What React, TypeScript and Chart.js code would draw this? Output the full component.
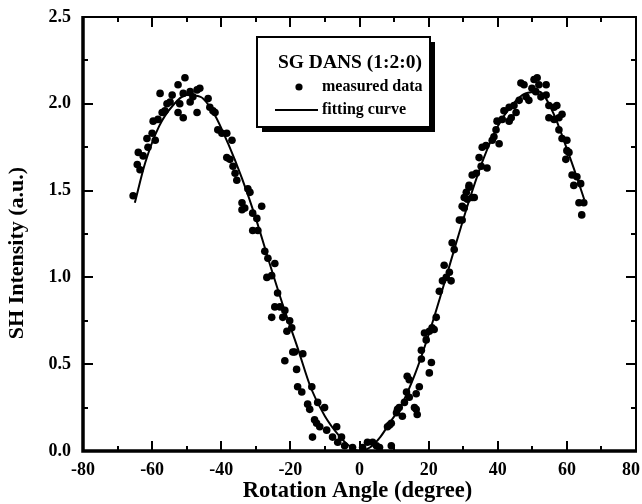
import React, { useEffect, useRef } from "react";
import { Chart, registerables } from "chart.js";
Chart.register(...registerables);

const measuredAngle = [
  -65.5, -64.3, -64, -63.5, -62.6, -61.5, -61.2, -60, -59.7, -59.1, -58.3, -57.7, -57.1, -56.3, -55.7, -54.8, -54.2,
  -52.5, -52.5, -52, -51, -51, -50.5, -49, -49, -48.2, -47, -47, -46.2, -43.8, -43.3, -42.4, -41.8, -41, -39.8,
  -38.4, -38.4, -37.5, -36.9, -36.6, -36, -35.5, -34, -34, -33.2, -32.3, -31.7, -30.9, -30.9, -29.7, -29.4, -28.3,
  -27.4, -26.8, -26.5, -25.4, -25.4, -24.5, -24.5, -23.7, -23, -22.2, -21.6, -21.6, -21, -20.2, -19.6, -19.3, -18.8,
  -18.2, -17.9, -16.7, -16.4, -15, -14.4, -13.8, -13.6, -13, -12.4, -12.1, -11.5, -10.1, -9.5, -7.8, -6.6, -6.3,
  -5.2, -4.3, -2, 0.9, 2.3, 3.8, 4.9, 5.8, 8.1, 8.7, 9.2, 9.2, 10.7, 11, 11.5, 12.4, 13, 13.6, 13.8, 14.4, 14.4,
  15.9, 16.4, 16.7, 16.4, 17.3, 17.9, 17.9, 18.8, 19.3, 20.2, 20.2, 20.8, 21, 21.6, 22.2, 23.1, 24, 24.5, 25.1, 26,
  26.5, 26.8, 27.4, 28.9, 29.7, 29.7, 30.3, 30.3, 30.9, 31.2, 31.7, 31.7, 32.6, 32.6, 33.2, 33.8, 34.6, 35.2, 35.5,
  36.6, 36.9, 38.4, 38.9, 39.5, 39.8, 40.4, 41.3, 41.8, 43.3, 43.3, 43.9, 44.7, 45.3, 46.2, 46.7, 47.6, 48.2, 49,
  49.9, 50.5, 51, 51.4, 51.9, 52.5, 54, 54, 54.8, 54.8, 56.3, 56.3, 57.1, 57.7, 57.7, 58.6, 58.6, 60, 60, 60.6, 59.7,
  61.5, 62.9, 62, 64, 63.5, 64.9, 64.3,
];
const measuredIntensity = [
  1.47, 1.65, 1.72, 1.62, 1.7, 1.8, 1.75, 1.83, 1.9, 1.79, 1.91, 2.06, 1.95, 1.96, 2.0, 2.01, 2.05,
  2.11, 1.95, 2.0, 2.06, 1.92, 2.15, 2.07, 2.01, 2.04, 2.08, 1.95, 2.09, 2.03, 1.98, 1.96, 1.95, 1.85, 1.83,
  1.83, 1.69, 1.68, 1.79, 1.64, 1.6, 1.56, 1.43, 1.39, 1.4, 1.51, 1.49, 1.37, 1.27, 1.34, 1.27, 1.41,
  1.15, 1.0, 1.11, 1.01, 0.77, 1.08, 0.83, 0.91, 0.83, 0.77, 0.81, 0.52, 0.69, 0.75, 0.71, 0.57, 0.57,
  0.47, 0.37, 0.34, 0.56, 0.27, 0.24, 0.37, 0.08, 0.18, 0.16, 0.28, 0.14, 0.25, 0.12, 0.08, 0.14, 0.05,
  0.08, 0.03, 0.02, 0.02, 0.05, 0.05, 0.03, 0.02, 0.14, 0.15, 0.03, 0.16, 0.22, 0.24, 0.25, 0.2, 0.28, 0.34, 0.43, 0.31, 0.41,
  0.25, 0.24, 0.21, 0.33, 0.37, 0.53, 0.58, 0.68, 0.64, 0.45, 0.69, 0.51, 0.71, 0.7, 0.77, 0.92, 0.98, 1.07, 1.0, 1.03,
  0.98, 1.2, 1.16, 1.33, 1.33, 1.41, 1.4, 1.46, 1.49, 1.45, 1.52, 1.53, 1.46, 1.59, 1.46, 1.6, 1.69, 1.64, 1.75,
  1.76, 1.63, 1.79, 1.81, 1.85, 1.9, 1.77, 1.91, 1.96, 1.9, 1.98, 1.92, 1.99, 1.95, 2.02, 2.12, 2.11, 2.04, 2.02,
  2.09, 2.14, 2.07, 2.15, 2.11, 2.04, 2.11, 2.05, 1.99, 1.92, 1.98, 1.91, 1.99, 1.92, 1.85, 1.94, 1.8, 1.79, 1.73, 1.72, 1.68,
  1.59, 1.58, 1.53, 1.54, 1.43, 1.43, 1.36,
];

const fitAngle = [
  -65, -62, -58, -54, -50, -46, -42, -38, -34, -30, -26, -22, -18, -14, -10, -6, -3, 0,
  3, 6, 9, 12, 16, 20, 24, 28, 32, 36, 40, 44, 48, 52, 56, 60, 63, 65,
];
const fitIntensity = [
  1.43, 1.66, 1.87, 1.99, 2.05, 2.04, 1.94, 1.77, 1.57, 1.34, 1.08, 0.83, 0.6, 0.36, 0.2, 0.09, 0.03, 0.0,
  0.02, 0.08, 0.17, 0.26, 0.44, 0.67, 0.93, 1.2, 1.46, 1.69, 1.87, 1.99, 2.06, 2.07, 1.95, 1.74, 1.57, 1.45,
];

const xTickValues = [-80, -60, -40, -20, 0, 20, 40, 60, 80];
const yTickValues = [0, 0.5, 1.0, 1.5, 2.0, 2.5];

const legendTitle = "SG DANS (1:2:0)";
const seriesNames = ["measured data", "fitting curve"];
const xTitle = "Rotation Angle (degree)";
const yTitle = "SH Intensity (a.u.)";

const SERIF = "'Liberation Serif', 'Times New Roman', serif";

const framePlugin = {
  id: "frameAndLegend",
  afterDraw(chart: any) {
    const { ctx, chartArea: a, scales, width } = chart;
    const xs = scales.x;
    const ys = scales.y;
    ctx.save();
    ctx.strokeStyle = "#000";
    ctx.fillStyle = "#000";
    // ticks (inside, on all four sides)
    ctx.lineWidth = 2;
    for (let v = -80; v <= 80; v += 10) {
      const px = Math.round(xs.getPixelForValue(v));
      const len = v % 20 === 0 ? 10 : 5;
      ctx.beginPath();
      ctx.moveTo(px, a.bottom);
      ctx.lineTo(px, a.bottom - len);
      ctx.moveTo(px, a.top);
      ctx.lineTo(px, a.top + len);
      ctx.stroke();
    }
    for (let v = 0; v <= 2.5001; v += 0.25) {
      const py = Math.round(ys.getPixelForValue(v));
      const major = Math.abs(v * 2 - Math.round(v * 2)) < 1e-6;
      const len = major ? 10 : 5;
      ctx.beginPath();
      ctx.moveTo(a.left, py);
      ctx.lineTo(a.left + len, py);
      ctx.moveTo(a.right, py);
      ctx.lineTo(a.right - len, py);
      ctx.stroke();
    }
    // frame
    ctx.lineWidth = 2;
    ctx.beginPath();
    ctx.moveTo(a.left, a.top);
    ctx.lineTo(a.right, a.top);
    ctx.lineTo(a.right, a.bottom);
    ctx.stroke();
    ctx.lineWidth = 3.5;
    ctx.beginPath();
    ctx.moveTo(a.left, a.top - 1);
    ctx.lineTo(a.left, a.bottom);
    ctx.lineTo(a.right + 1, a.bottom);
    ctx.stroke();

    // x tick labels, positioned by the x scale
    ctx.font = `bold 18px ${SERIF}`;
    ctx.textAlign = "center";
    ctx.textBaseline = "middle";
    xTickValues.forEach((v) => {
      const label = String(v);
      const w = ctx.measureText(label).width;
      let px = xs.getPixelForValue(v);
      if (px + w / 2 > width - 2) px = width - 2 - w / 2;
      ctx.fillText(label, px, 470);
    });

    // axis titles
    ctx.font = `bold 22.5px ${SERIF}`;
    ctx.fillText(xTitle, xs.getPixelForValue(0) - 2, 491);
    ctx.save();
    ctx.font = `bold 22px ${SERIF}`;
    ctx.translate(17, 253);
    ctx.rotate(-Math.PI / 2);
    ctx.fillText(yTitle, 0, 0);
    ctx.restore();

    // legend box with shadow
    const bx = 257, by = 37, bw = 173, bh = 90;
    ctx.fillRect(bx + 5, by + 5, bw, bh);
    ctx.fillStyle = "#fff";
    ctx.fillRect(bx, by, bw, bh);
    ctx.lineWidth = 2;
    ctx.strokeRect(bx, by, bw, bh);
    ctx.fillStyle = "#000";
    ctx.font = `bold 19.5px ${SERIF}`;
    ctx.textAlign = "center";
    ctx.fillText(legendTitle, 350, 63);
    ctx.beginPath();
    ctx.arc(299, 87, 3.6, 0, Math.PI * 2);
    ctx.fill();
    ctx.lineWidth = 2;
    ctx.beginPath();
    ctx.moveTo(275, 110);
    ctx.lineTo(318, 110);
    ctx.stroke();
    ctx.font = `bold 16px ${SERIF}`;
    ctx.textAlign = "left";
    ctx.fillText(seriesNames[0], 322, 87);
    ctx.fillText(seriesNames[1], 322, 110);
    ctx.restore();
  },
};

export default function App() {
  const ref = useRef<HTMLCanvasElement>(null);
  useEffect(() => {
    if (!ref.current) return;
    const measured = measuredAngle.map((x, i) => ({ x, y: measuredIntensity[i] }));
    const fit = fitAngle.map((x, i) => ({ x, y: fitIntensity[i] }));
    const tickFont = { family: SERIF, weight: "bold" as const, size: 18 };
    const chart = new Chart(ref.current, {
      type: "scatter",
      data: {
        datasets: [
          {
            label: seriesNames[0],
            data: measured,
            pointRadius: 3.8,
            pointBackgroundColor: "#000",
            pointBorderWidth: 0,
            borderColor: "#000",
            showLine: false,
          },
          {
            label: seriesNames[1],
            data: fit,
            pointRadius: 0,
            showLine: true,
            borderColor: "#000",
            borderWidth: 2,
            cubicInterpolationMode: "monotone",
          },
        ],
      },
      options: {
        responsive: false,
        animation: false,
        events: [],
        layout: { padding: { top: 17, right: 6, left: 0, bottom: 0 } },
        plugins: { legend: { display: false }, tooltip: { enabled: false } },
        scales: {
          x: {
            type: "linear",
            min: -80,
            max: 80,
            afterBuildTicks: (s: any) => {
              s.ticks = xTickValues.map((v) => ({ value: v }));
            },
            ticks: { display: false },
            grid: { display: false, drawTicks: false },
            border: { display: false },
            afterFit: (s: any) => {
              s.height = 53;
              s.paddingRight = 0;
              s.paddingLeft = 0;
            },
          },
          y: {
            type: "linear",
            min: 0,
            max: 2.5,
            afterBuildTicks: (s: any) => {
              s.ticks = yTickValues.map((v) => ({ value: v }));
            },
            ticks: {
              font: tickFont,
              color: "#000",
              padding: 12,
              autoSkip: false,
              callback: (v: any) => Number(v).toFixed(1),
            },
            grid: { display: false, drawTicks: false },
            border: { display: false },
            afterFit: (s: any) => {
              s.width = 83;
              s.paddingTop = 0;
              s.paddingBottom = 0;
            },
          },
        },
      },
      plugins: [framePlugin],
    });
    return () => chart.destroy();
  }, []);
  return (
    <div style={{ position: "absolute", left: 0, top: 0, width: 642, height: 504, background: "#fff" }}>
      <canvas ref={ref} width={642} height={504} />
    </div>
  );
}
